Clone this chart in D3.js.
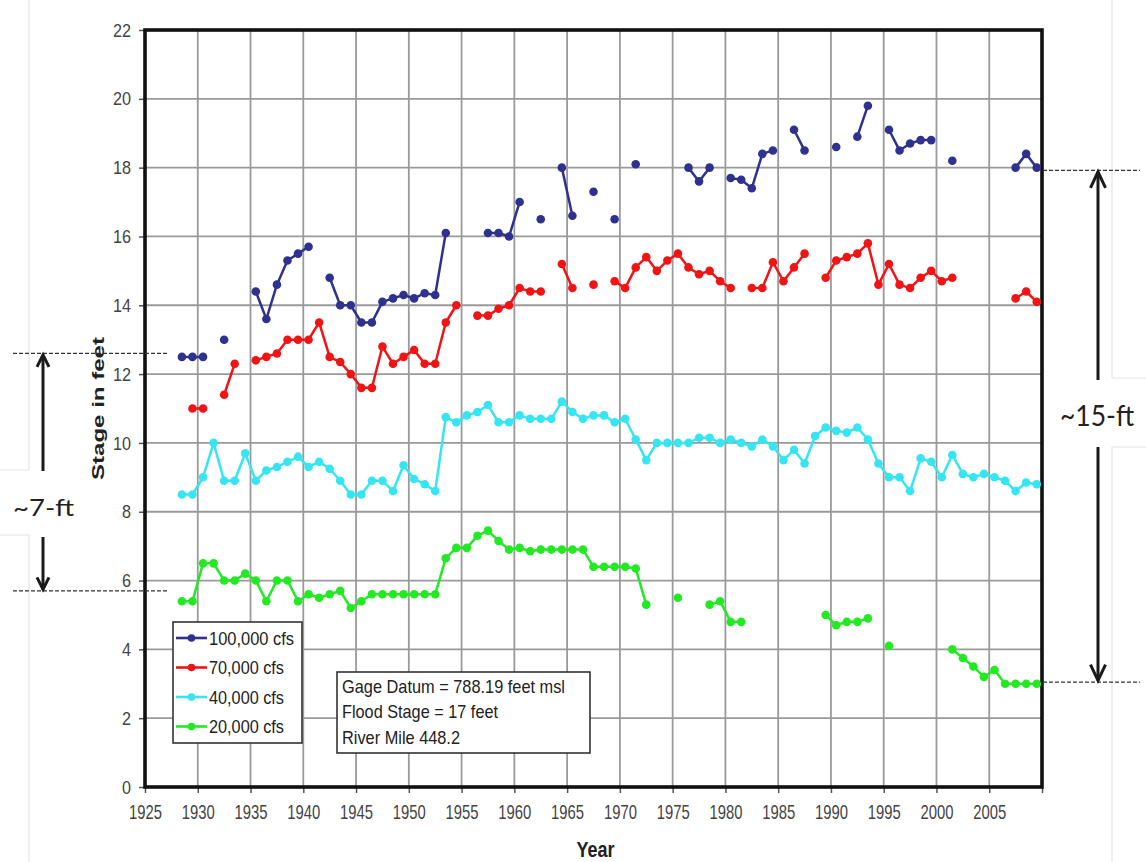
<!DOCTYPE html>
<html><head><meta charset="utf-8">
<script src="https://cdn.jsdelivr.net/npm/d3@7"></script>
<style>body{margin:0;background:#fff}svg{display:block}</style>
</head><body>
<svg id="chart" width="1146" height="862"></svg>
<script>
// ---------- data ----------
const years = d3.range(1928, 2010); // 1928..2009
const cfs100k = [12.5,12.5,12.5,null,13.0,null,null,14.4,13.6,14.6,
  15.3,15.5,15.7,null,14.8,14.0,14.0,13.5,13.5,14.1,
  14.2,14.3,14.2,14.35,14.3,16.1,null,null,null,16.1,
  16.1,16.0,17.0,null,16.5,null,18.0,16.6,null,17.3,
  null,16.5,null,18.1,null,null,null,null,18.0,17.6,
  18.0,null,17.7,17.65,17.4,18.4,18.5,null,19.1,18.5,
  null,null,18.6,null,18.9,19.8,null,19.1,18.5,18.7,
  18.8,18.8,null,18.2,null,null,null,null,null,18.0,
  18.4,18.0];
const cfs70k = [null,11.0,11.0,null,11.4,12.3,null,12.4,12.5,12.6,
  13.0,13.0,13.0,13.5,12.5,12.35,12.0,11.6,11.6,12.8,
  12.3,12.5,12.7,12.3,12.3,13.5,14.0,null,13.7,13.7,
  13.9,14.0,14.5,14.4,14.4,null,15.2,14.5,null,14.6,
  null,14.7,14.5,15.1,15.4,15.0,15.3,15.5,15.1,14.9,
  15.0,14.7,14.5,null,14.5,14.5,15.25,14.7,15.1,15.5,
  null,14.8,15.3,15.4,15.5,15.8,14.6,15.2,14.6,14.5,
  14.8,15.0,14.7,14.8,null,null,null,null,null,14.2,
  14.4,14.1];
const cfs40k = [8.5,8.5,9.0,10.0,8.9,8.9,9.7,8.9,9.2,9.3,
  9.45,9.6,9.3,9.45,9.25,8.9,8.5,8.5,8.9,8.9,
  8.6,9.35,8.95,8.8,8.6,10.75,10.6,10.8,10.9,11.1,
  10.6,10.6,10.8,10.7,10.7,10.7,11.2,10.9,10.7,10.8,
  10.8,10.6,10.7,10.1,9.5,10.0,10.0,10.0,10.0,10.15,
  10.15,10.0,10.1,10.0,9.9,10.1,9.9,9.5,9.8,9.4,
  10.2,10.45,10.35,10.3,10.45,10.1,9.4,9.0,9.0,8.6,
  9.55,9.45,9.0,9.65,9.1,9.0,9.1,9.0,8.9,8.6,
  8.85,8.8];
const cfs20k = [5.4,5.4,6.5,6.5,6.0,6.0,6.2,6.0,5.4,6.0,
  6.0,5.4,5.6,5.5,5.6,5.7,5.2,5.4,5.6,5.6,
  5.6,5.6,5.6,5.6,5.6,6.65,6.95,6.95,7.3,7.45,
  7.15,6.9,6.95,6.85,6.9,6.9,6.9,6.9,6.9,6.4,
  6.4,6.4,6.4,6.35,5.3,null,null,5.5,null,null,
  5.3,5.4,4.8,4.8,null,null,null,null,null,null,
  null,5.0,4.7,4.8,4.8,4.9,null,4.1,null,null,
  null,null,null,4.0,3.75,3.5,3.2,3.4,3.0,3.0,
  3.0,3.0];
const seriesNames = ["100,000 cfs","70,000 cfs","40,000 cfs","20,000 cfs"];
const seriesColors = ["#2f3190","#f01414","#35e6f2","#22ea22"];
const seriesValues = [cfs100k, cfs70k, cfs40k, cfs20k];
const xTicks = d3.range(1925, 2011, 5);
const yTicks = d3.range(0, 23, 2);
const infoLines = ["Gage Datum = 788.19 feet msl","Flood Stage = 17 feet","River Mile 448.2"];
const leftRange = [5.7, 12.6];   // "~7-ft" annotation levels
const rightRange = [3.05, 17.92]; // "~15-ft" annotation levels

// ---------- layout ----------
const svg = d3.select("#chart");
const L = 145, R = 1042, T = 30, B = 787;
const x = d3.scaleLinear().domain([1925, 2010]).range([L, R]);
const y = d3.scaleLinear().domain([0, 22]).range([B, T]);

svg.append("rect").attr("width",1146).attr("height",862).attr("fill","#fff");

// faint image-edge lines
const faint = "#e4e4e4";
svg.append("path").attr("d",`M29,0V470H0M0,535H29V862`).attr("fill","none").attr("stroke",faint).attr("stroke-width",1.2);
svg.append("path").attr("d",`M1112,0V378H1146M1146,447H1112V862`).attr("fill","none").attr("stroke",faint).attr("stroke-width",1.2);

// gridlines
const grid = svg.append("g").attr("stroke","#9a9a9a").attr("stroke-width",1.8);
yTicks.filter(v => v > 0 && v < 22).forEach(v =>
  grid.append("line").attr("x1",L).attr("x2",R).attr("y1",y(v)).attr("y2",y(v)));
xTicks.filter(v => v > 1925 && v < 2010).forEach(v =>
  grid.append("line").attr("y1",T).attr("y2",B).attr("x1",x(v)).attr("x2",x(v)));

// axes
const yAxis = svg.append("g").attr("transform",`translate(${L},0)`)
  .call(d3.axisLeft(y).tickValues(yTicks).tickSize(6).tickPadding(8));
yAxis.select(".domain").remove();
yAxis.selectAll(".tick line").attr("stroke","#555").attr("stroke-width",1.5);
yAxis.selectAll(".tick text").attr("font-family","Liberation Sans, Arial, sans-serif")
  .attr("font-size",19).attr("fill","#444")
  .attr("textLength", d => String(d).length * 9).attr("lengthAdjust","spacingAndGlyphs");

const xAxis = svg.append("g").attr("transform",`translate(0,${B})`)
  .call(d3.axisBottom(x).tickValues(xTicks).tickSize(6).tickPadding(6)
    .tickFormat(d => d === 2010 ? "" : String(d)));
xAxis.select(".domain").remove();
xAxis.selectAll(".tick line").attr("stroke","#555").attr("stroke-width",1.5);
xAxis.selectAll(".tick text").attr("font-family","Liberation Sans, Arial, sans-serif")
  .attr("font-size",21).attr("fill","#444").attr("dy","0.95em")
  .attr("textLength", d => d === 2010 ? null : 33).attr("lengthAdjust","spacingAndGlyphs");

// plot border
svg.append("rect").attr("x",L).attr("y",T).attr("width",R-L).attr("height",B-T)
  .attr("fill","none").attr("stroke","#111").attr("stroke-width",3.6);

// series
const line = d3.line().defined(d => d.v != null).x(d => x(d.yr + 0.5)).y(d => y(d.v));
seriesValues.forEach((vals, i) => {
  const pts = years.map((yr, k) => ({yr, v: vals[k]}));
  const g = svg.append("g");
  g.append("path").datum(pts).attr("d", line).attr("fill","none")
    .attr("stroke", seriesColors[i]).attr("stroke-width",2.5).attr("stroke-linejoin","round");
  g.selectAll("circle").data(pts.filter(d => d.v != null)).join("circle")
    .attr("cx", d => x(d.yr + 0.5)).attr("cy", d => y(d.v)).attr("r",4.3)
    .attr("fill", seriesColors[i]);
});

// axis titles
svg.append("text").attr("transform",`translate(104,${(T+B)/2}) rotate(-90)`)
  .attr("text-anchor","middle").attr("font-family","Liberation Sans, Arial, sans-serif")
  .attr("font-weight","bold").attr("font-size",16).attr("fill","#222")
  .attr("textLength",143).attr("lengthAdjust","spacingAndGlyphs").text("Stage in feet");
svg.append("text").attr("x",(L+R)/2 + 2).attr("y",857)
  .attr("text-anchor","middle").attr("font-family","Liberation Sans, Arial, sans-serif")
  .attr("font-weight","bold").attr("font-size",22).attr("fill","#222")
  .attr("textLength",38).attr("lengthAdjust","spacingAndGlyphs").text("Year");

// legend
const leg = svg.append("g");
leg.append("rect").attr("x",173).attr("y",622).attr("width",129).attr("height",121)
  .attr("fill","#fff").attr("stroke","#333").attr("stroke-width",1.6);
const legW = [85,75,75,75];
seriesNames.forEach((n, i) => {
  const yy = 638 + i * 29.5;
  leg.append("line").attr("x1",176).attr("x2",207).attr("y1",yy).attr("y2",yy)
    .attr("stroke",seriesColors[i]).attr("stroke-width",2.6);
  leg.append("circle").attr("cx",191.5).attr("cy",yy).attr("r",3.8).attr("fill",seriesColors[i]);
  leg.append("text").attr("x",209).attr("y",yy + 6.5)
    .attr("font-family","Liberation Sans, Arial, sans-serif").attr("font-size",18.5).attr("fill","#222")
    .attr("textLength",legW[i]).attr("lengthAdjust","spacingAndGlyphs").text(n);
});

// info box
const info = svg.append("g");
info.append("rect").attr("x",337).attr("y",672).attr("width",253).attr("height",81)
  .attr("fill","#fff").attr("stroke","#333").attr("stroke-width",1.6);
const infoW = [223,156,118];
infoLines.forEach((t, i) => {
  info.append("text").attr("x",342).attr("y",693 + i * 25.3)
    .attr("font-family","Liberation Sans, Arial, sans-serif").attr("font-size",18.5).attr("fill","#222")
    .attr("textLength",infoW[i]).attr("lengthAdjust","spacingAndGlyphs").text(t);
});

// annotations
const dash = (x1, x2, v) => svg.append("line").attr("x1",x1).attr("x2",x2)
  .attr("y1",y(v)).attr("y2",y(v)).attr("stroke","#333").attr("stroke-width",1.3)
  .attr("stroke-dasharray","4,2");
dash(13, 168, leftRange[1]); dash(13, 168, leftRange[0]);
dash(1043, 1140, rightRange[1]); dash(1043, 1140, rightRange[0]);

function arrow(cx, vTop, vBot, gapTop, gapBot, hw, hl) {
  const yt = y(vTop) + 1.5, yb = y(vBot) - 1.5;
  const g = svg.append("g").attr("stroke","#1a1a1a").attr("stroke-width",3).attr("fill","none")
    .attr("stroke-linecap","butt");
  g.append("line").attr("x1",cx).attr("x2",cx).attr("y1",yt).attr("y2",gapTop);
  g.append("line").attr("x1",cx).attr("x2",cx).attr("y1",gapBot).attr("y2",yb);
  g.append("path").attr("d",`M${cx-hw},${yt+hl}L${cx},${yt}L${cx+hw},${yt+hl}`);
  g.append("path").attr("d",`M${cx-hw},${yb-hl}L${cx},${yb}L${cx+hw},${yb-hl}`);
}
arrow(43, leftRange[1], leftRange[0], 471, 537, 6, 12);
arrow(1098, rightRange[1], rightRange[0], 380, 447, 7.5, 16);

svg.append("text").attr("x",43.5).attr("y",516).attr("text-anchor","middle")
  .attr("font-family","Lato, 'Open Sans', sans-serif").attr("font-size",23).attr("fill","#222")
  .attr("textLength",61).attr("lengthAdjust","spacingAndGlyphs").text("~7-ft");
svg.append("text").attr("x",1097).attr("y",426).attr("text-anchor","middle")
  .attr("font-family","Lato, 'Open Sans', sans-serif").attr("font-size",29).attr("fill","#222")
  .attr("textLength",74).attr("lengthAdjust","spacingAndGlyphs").text("~15-ft");
</script>
</body></html>
